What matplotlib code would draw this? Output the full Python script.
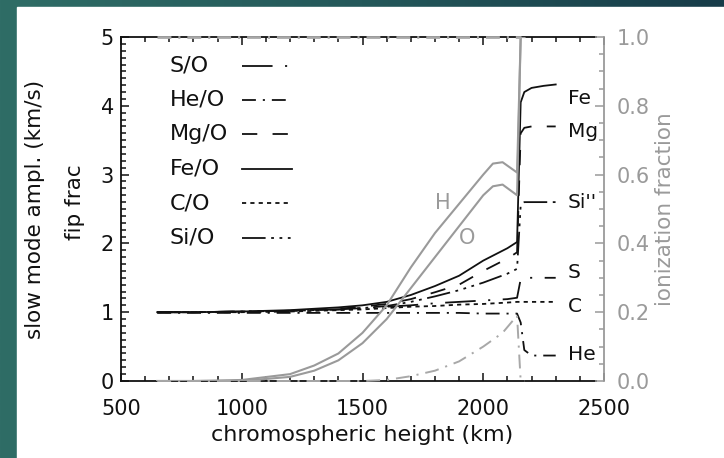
import numpy as np
import matplotlib
matplotlib.use("Agg")
import matplotlib.pyplot as plt
from matplotlib.patches import Rectangle
from matplotlib.lines import Line2D
from matplotlib.colors import LinearSegmentedColormap
from matplotlib.ticker import MultipleLocator, FixedLocator, FormatStrFormatter

plt.rcParams['font.family'] = ['DejaVu Sans']
plt.rcParams['lines.scale_dashes'] = False

# ---------------- data ----------------
height = [650, 800, 1000, 1200, 1400, 1500, 1600, 1700, 1800, 1900, 2000, 2100,
          2140, 2155, 2170, 2200, 2250, 2300]
fe_o = [1.00, 1.00, 1.01, 1.03, 1.07, 1.10, 1.15, 1.25, 1.38, 1.53, 1.75, 1.93,
        2.02, 4.05, 4.20, 4.26, 4.29, 4.31]
mg_o = [1.00, 1.00, 1.01, 1.02, 1.05, 1.08, 1.12, 1.19, 1.29, 1.40, 1.60, 1.78,
        1.87, 3.60, 3.68, 3.70, 3.70, 3.70]
si_o = [1.00, 1.00, 1.01, 1.02, 1.04, 1.06, 1.09, 1.15, 1.23, 1.32, 1.43, 1.56,
        1.63, 2.55, 2.60, 2.60, 2.60, 2.60]
s_o = [1.00, 1.00, 1.01, 1.02, 1.04, 1.06, 1.08, 1.10, 1.13, 1.15, 1.17, 1.19,
       1.21, 1.48, 1.50, 1.50, 1.50, 1.50]
c_o = [1.00, 1.00, 1.00, 1.01, 1.03, 1.04, 1.06, 1.08, 1.09, 1.11, 1.12, 1.14,
       1.15, 1.15, 1.15, 1.15, 1.15, 1.15]
he_o = [0.99, 0.99, 0.99, 0.99, 0.99, 0.99, 0.99, 0.99, 0.99, 0.99, 0.98, 0.98,
        0.98, 0.85, 0.45, 0.37, 0.37, 0.37]

ion_height = [650, 800, 1000, 1200, 1300, 1400, 1500, 1600, 1700, 1800, 1900,
              2000, 2040, 2080, 2140, 2155, 2170]
ion_h = [0.0, 0.0, 0.003, 0.02, 0.045, 0.08, 0.14, 0.22, 0.33, 0.43, 0.515,
         0.60, 0.632, 0.636, 0.606, 1.0, 1.0]
ion_o = [0.0, 0.0, 0.0, 0.012, 0.03, 0.06, 0.11, 0.18, 0.27, 0.36, 0.45,
         0.54, 0.566, 0.571, 0.54, 1.0, 1.0]
ion_low = [0.0, 0.0, 0.0, 0.0, 0.0, 0.0, 0.0, 0.003, 0.014, 0.03, 0.057,
           0.10, 0.12, 0.14, 0.19, 0.0, 0.0]
ion_top_height = [650, 2155]
ion_top = [1.0, 1.0]

x_ticks = [500, 1000, 1500, 2000, 2500]
left_ticks = [0, 1, 2, 3, 4, 5]
right_ticks = [0.0, 0.2, 0.4, 0.6, 0.8, 1.0]

series_labels = ['S/O', 'He/O', 'Mg/O', 'Fe/O', 'C/O', 'Si/O']
end_labels = ['Fe', 'Mg', "Si''", 'S', 'C', 'He']
end_label_y = [4.11, 3.62, 2.60, 1.57, 1.08, 0.38]

# ---------------- styles ----------------
BLACK = '#111111'
GRAY = '#9a9a9a'
LGRAY = '#a8a8a8'
ls_s = (0, (22, 9, 1.5, 9))
ls_he = (0, (10, 5, 1.5, 5))
ls_mg = (0, (11, 11))
ls_fe = '-'
ls_c = (0, (3, 3))
ls_si = (0, (17, 4, 2, 4, 2, 4, 2, 4))

fig = plt.figure(figsize=(7.24, 4.58), dpi=100)

# slide background
bg = fig.add_axes([0, 0, 1, 1], zorder=-10)
grad = np.linspace(0, 1, 256).reshape(1, -1)
cmap = LinearSegmentedColormap.from_list('bgc', ['#2f6d66', '#24585a', '#173c49'])
bg.imshow(grad, extent=[0, 1, 0, 1], aspect='auto', cmap=cmap)
bg.add_patch(Rectangle((17 / 724, 0), 1, (458 - 7) / 458, color='white'))
bg.set_xlim(0, 1); bg.set_ylim(0, 1)
bg.axis('off')

ax = fig.add_axes([121 / 724, (458 - 381) / 458, 483 / 724, 344 / 458])
ax.set_facecolor('none')
lw = 1.3
series = [s_o, he_o, mg_o, fe_o, c_o, si_o]
styles = [ls_s, ls_he, ls_mg, ls_fe, ls_c, ls_si]
for vals, ls in zip(series, styles):
    ax.plot(height, vals, color=BLACK, lw=lw, ls=ls)

ax.set_xlim(500, 2500)
ax.set_ylim(0, 5)
ax.xaxis.set_major_locator(FixedLocator(x_ticks))
ax.xaxis.set_minor_locator(MultipleLocator(100))
ax.yaxis.set_major_locator(FixedLocator(left_ticks))
ax.yaxis.set_minor_locator(MultipleLocator(0.1))
ax.tick_params(which='both', direction='in', top=True, right=False,
               colors=BLACK, labelsize=15, width=1.1)
ax.tick_params(which='major', length=6)
ax.tick_params(axis='x', which='major', pad=13)
ax.tick_params(axis='y', which='major', pad=5)
ax.tick_params(which='minor', length=3.5)
ax.spines['right'].set_visible(False)
for s in ['top', 'bottom', 'left']:
    ax.spines[s].set_linewidth(1.3)
    ax.spines[s].set_color(BLACK)
ax.spines['top'].set_bounds(500, 2465)
ax.spines['bottom'].set_bounds(500, 2465)
for t in ax.xaxis.get_major_ticks():
    if t.get_loc() == 2500:
        t.tick1line.set_visible(False)
        t.tick2line.set_visible(False)

ax.set_xlabel('chromospheric height (km)', fontsize=16, color=BLACK, labelpad=4)
ax.text(-0.178, 0.5, 'slow mode ampl. (km/s)', transform=ax.transAxes,
        rotation=90, ha='center', va='center', fontsize=15.5, color=BLACK)
ax.text(-0.095, 0.52, 'fip frac', transform=ax.transAxes,
        rotation=90, ha='center', va='center', fontsize=15.5, color=BLACK)

for lab, yv in zip(end_labels, end_label_y):
    ax.text(2351, yv, lab, ha='left', va='center', fontsize=14.5, color=BLACK)

# legend: label first (left aligned), then the line sample
leg_y0, leg_dy = 0.917, 0.1
for i, (lab, ls) in enumerate(zip(series_labels, styles)):
    yy = leg_y0 - i * leg_dy
    ax.text(0.101, yy, lab, transform=ax.transAxes, ha='left', va='center',
            fontsize=16, color=BLACK)
    ax.add_line(Line2D([0.2505, 0.354], [yy, yy], transform=ax.transAxes,
                       color=BLACK, lw=lw, ls=ls))

# ionization fraction axis
ax2 = ax.twinx()
ax2.plot(ion_top_height, ion_top, color=LGRAY, lw=2.0, ls=ls_he,
         clip_on=False, zorder=4)
ax2.plot(ion_height, ion_h, color=GRAY, lw=1.5)
ax2.plot(ion_height, ion_o, color=GRAY, lw=1.5)
ax2.plot(ion_height, ion_low, color=LGRAY, lw=1.4, ls=ls_he, clip_on=False)
ax2.set_ylim(0, 1)
ax2.yaxis.set_major_locator(FixedLocator(right_ticks))
ax2.yaxis.set_minor_locator(MultipleLocator(0.05))
ax2.yaxis.set_major_formatter(FormatStrFormatter('%.1f'))
ax2.tick_params(which='both', direction='in', colors=GRAY, labelsize=15, width=1.1)
ax2.tick_params(which='major', length=6.5, pad=9)
ax2.tick_params(which='minor', length=3.5)
for s in ['top', 'bottom', 'left']:
    ax2.spines[s].set_visible(False)
ax2.spines['right'].set_color(GRAY)
ax2.spines['right'].set_linewidth(1.3)
ax2.set_ylabel('ionization fraction', color=GRAY, fontsize=15.5, labelpad=4)

ax2.text(1833, 0.516, 'H', color=GRAY, fontsize=15, ha='center', va='center')
ax2.text(1933, 0.417, 'O', color=GRAY, fontsize=15, ha='center', va='center')

fig.savefig('out.png', dpi=100)
